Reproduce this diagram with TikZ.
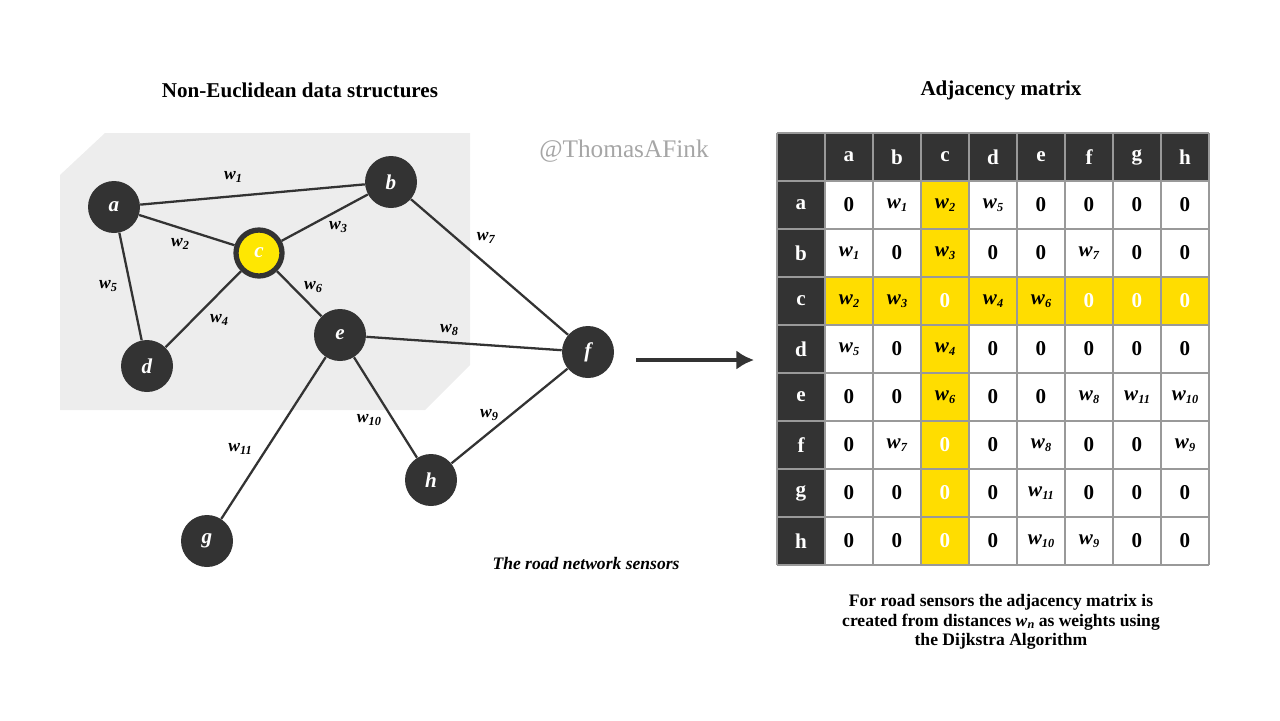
\documentclass[tikz,border=0pt]{standalone}
\usepackage{fontspec}
\setmainfont{Liberation Serif}
\usetikzlibrary{arrows.meta}
\begin{document}
\newcommand\wl[1]{\textbf{\textit{w}}\raisebox{-0.35ex}{\scriptsize\textbf{\textit{#1}}}}
\begin{tikzpicture}[x=0.02cm,y=-0.02cm,
  vtx/.style={circle,fill=black!80,minimum size=52*0.02cm,inner sep=0pt,text=white,font=\large\bfseries\itshape},
  edge/.style={line width=1.3pt,draw=black!80},
  el/.style={font=\normalsize},
  ttl/.style={font=\large\bfseries},
  cell/.style={font=\large\bfseries}]
\useasboundingbox (0,0) rectangle (1280,720);
\fill[black!7] (60,175) -- (105,133) -- (470,133) -- (470,365) -- (425,410) -- (60,410) -- cycle;
\node[ttl] (t1) at (300,90) {Non-Euclidean data structures};
\node[ttl] (t2) at (1001,90) {Adjacency matrix};
\node[font=\Large,text=black!35] (wm) at (624,151) {@ThomasAFink};
\node[vtx] (a) at (114,207) {a};
\node[vtx] (b) at (391,182) {b};
\node[vtx,fill=yellow!90!orange,draw=black!80,line width=3pt,minimum size=46*0.02cm] (c) at (259,253) {c};
\node[vtx] (d) at (147,366) {d};
\node[vtx] (e) at (340,335) {e};
\node[vtx] (f) at (588,352) {f};
\node[vtx] (h) at (431,480) {h};
\node[vtx] (g) at (207,541) {g};
\draw[edge] (a) -- (b);
\draw[edge] (a) -- (c);
\draw[edge] (c) -- (b);
\draw[edge] (a) -- (d);
\draw[edge] (c) -- (d);
\draw[edge] (c) -- (e);
\draw[edge] (b) -- (f);
\draw[edge] (e) -- (f);
\draw[edge] (e) -- (h);
\draw[edge] (h) -- (f);
\draw[edge] (e) -- (g);
\node[el] (l1) at (233,177) {\wl{1}};
\node[el] (l2) at (180,244) {\wl{2}};
\node[el] (l3) at (338,227) {\wl{3}};
\node[el] (l5) at (108,286) {\wl{5}};
\node[el] (l4) at (219,320) {\wl{4}};
\node[el] (l6) at (313,287) {\wl{6}};
\node[el] (l7) at (486,238) {\wl{7}};
\node[el] (l8) at (449,330) {\wl{8}};
\node[el] (l10) at (369,420) {\wl{10}};
\node[el] (l9) at (489,415) {\wl{9}};
\node[el] (l11) at (240,449) {\wl{11}};
\node[font=\normalsize\bfseries\itshape] (cap1) at (586,563) {The road network sensors};
\coordinate (as) at (636,360);
\coordinate (ae) at (754,360);
\draw[line width=2.5pt,black!80,-{Latex[length=10pt,width=11pt]}] (as) -- (ae);
% matrix
\definecolor{yel}{HTML}{FFDD00}
\fill[black!80] (777,133) rectangle (1209,181);
\fill[black!80] (777,133) rectangle (825,565);
\fill[yel] (921,181) rectangle (969,565);
\fill[yel] (825,277) rectangle (1209,325);
\foreach \i in {0,...,9} {
  \draw[black!40,line width=0.6pt] (777+\i*48,133) -- (777+\i*48,565);
  \draw[black!40,line width=0.6pt] (777,133+\i*48) -- (1209,133+\i*48);
}
\foreach \n [count=\k] in {a,b,c,d,e,f,g,h} {
  \node[cell,text=white] (ch\n) at (801+\k*48,157) {\n};
  \node[cell,text=white] (rh\n) at (801,157+\k*48) {\n};
}
\newcommand\mrow[2]{\foreach \v [count=\k] in {#2} {\node[cell] at (801+\k*48,157+#1*48) {\v};}}
\mrow{1}{0,\wl{1},\wl{2},\wl{5},0,0,0,0}
\mrow{2}{\wl{1},0,\wl{3},0,0,\wl{7},0,0}
\mrow{3}{\wl{2},\wl{3},\textcolor{white}{0},\wl{4},\wl{6},\textcolor{white}{0},\textcolor{white}{0},\textcolor{white}{0}}
\mrow{4}{\wl{5},0,\wl{4},0,0,0,0,0}
\mrow{5}{0,0,\wl{6},0,0,\wl{8},\wl{11},\wl{10}}
\mrow{6}{0,\wl{7},\textcolor{white}{0},0,\wl{8},0,0,\wl{9}}
\mrow{7}{0,0,\textcolor{white}{0},0,\wl{11},0,0,0}
\mrow{8}{0,0,\textcolor{white}{0},0,\wl{10},\wl{9},0,0}
\node[font=\normalsize\bfseries,align=center] (cap2) at (1001,622) {For road sensors the adjacency matrix is\\[-1pt] created from distances \textit{w}\raisebox{-0.35ex}{\scriptsize\textit{n}} as weights using\\[-1pt] the Dijkstra Algorithm};
\end{tikzpicture}
\end{document}
